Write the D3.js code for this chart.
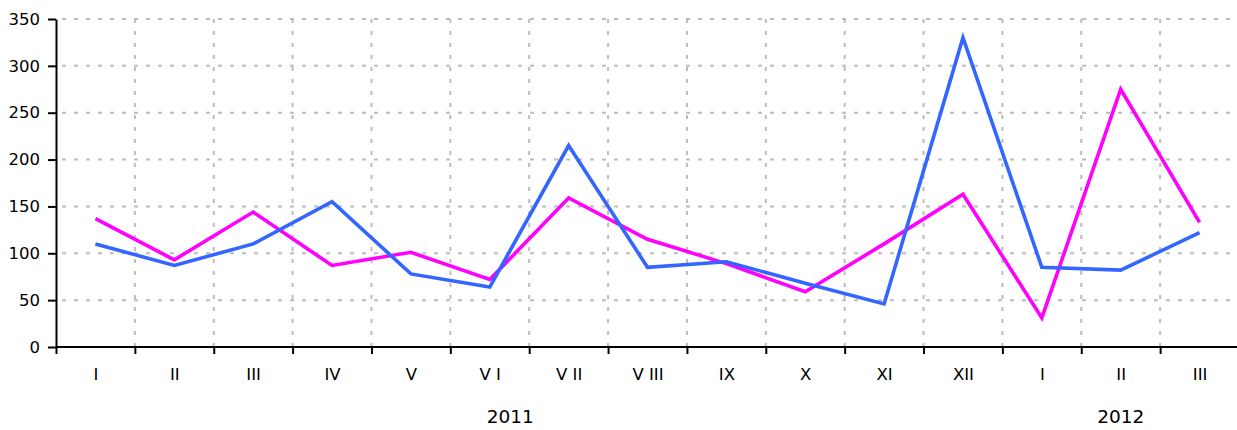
<!DOCTYPE html>
<html>
<head>
<meta charset="utf-8">
<script src="https://cdn.jsdelivr.net/npm/d3@7"></script>
<style>
  html, body { margin: 0; padding: 0; background: #fff; }
  svg { display: block; font-family: "DejaVu Sans", Verdana, sans-serif; }
</style>
</head>
<body>
<svg id="chart" width="1237" height="430"></svg>
<script>
// ---- data ----
const months = ["I", "II", "III", "IV", "V", "V I", "V II", "V III", "IX", "X", "XI", "XII", "I", "II", "III"];
const years = ["2011", "2012"];
const yearMonthCounts = [12, 3];
const blueSeries = [110, 87, 110, 155, 78, 64, 215, 85, 91, 68, 46, 330, 85, 82, 122];
const magentaSeries = [137, 93, 144, 87, 101, 72, 159, 115, 89, 59, 110, 163, 31, 275, 133];
const yTicks = [0, 50, 100, 150, 200, 250, 300, 350];

// ---- layout ----
const W = 1237, H = 430;
const mLeft = 56, mTop = 19, mBottom = 347, mRight = 1239;

const svg = d3.select("#chart");

const x = d3.scaleLinear().domain([0, months.length]).range([mLeft, mRight]);
const y = d3.scaleLinear().domain([0, 350]).range([mBottom, mTop]);

// grid
const grid = svg.append("g").attr("stroke", "#bcbcbc").attr("stroke-width", 2).attr("stroke-dasharray", "4,8");
grid.selectAll("line.h").data(yTicks.filter(d => d > 0)).join("line")
  .attr("class", "h")
  .attr("x1", mLeft + 6).attr("x2", W).attr("y1", d => y(d)).attr("y2", d => y(d));
grid.selectAll("line.v").data(d3.range(1, months.length)).join("line")
  .attr("class", "v")
  .attr("x1", d => x(d)).attr("x2", d => x(d)).attr("y1", mTop).attr("y2", mBottom);

// y axis
const yAxis = svg.append("g").attr("transform", `translate(${mLeft},0)`)
  .call(d3.axisLeft(y).tickValues(yTicks).tickSize(8).tickSizeOuter(0).tickPadding(8));
yAxis.select(".domain").attr("stroke", "#000").attr("stroke-width", 2);
yAxis.selectAll(".tick line").attr("stroke", "#000").attr("stroke-width", 2);
yAxis.selectAll(".tick text").attr("font-size", 16.5).attr("fill", "#000")
  .attr("font-family", "DejaVu Sans, Verdana, sans-serif");

// x axis ticks at boundaries
const xAxis = svg.append("g").attr("transform", `translate(0,${mBottom})`)
  .call(d3.axisBottom(x).tickValues(d3.range(0, months.length)).tickFormat("").tickSize(7).tickSizeOuter(0));
xAxis.select(".domain").attr("d", `M${mLeft},0H${W}`).attr("stroke", "#000").attr("stroke-width", 2);
xAxis.selectAll(".tick line").attr("stroke", "#000").attr("stroke-width", 2);

// month labels at band centers
const xLabels = svg.append("g").attr("transform", `translate(0,${mBottom})`)
  .call(d3.axisBottom(x).tickValues(d3.range(0, months.length).map(i => i + 0.5))
    .tickFormat((d, i) => months[i]).tickSize(0).tickPadding(21));
xLabels.select(".domain").remove();
xLabels.selectAll(".tick text").attr("font-size", 16.5).attr("fill", "#000")
  .attr("font-family", "DejaVu Sans, Verdana, sans-serif");

// year labels
let startIdx = 0;
const yearPos = years.map((yr, k) => {
  const s = startIdx, n = yearMonthCounts[k];
  startIdx += n;
  return k === 0 ? s + n * 0.48 : s + n * 0.5;
});
svg.append("g").selectAll("text").data(years).join("text")
  .attr("x", (d, i) => x(yearPos[i]))
  .attr("y", 423)
  .attr("text-anchor", "middle")
  .attr("font-size", 18.5)
  .attr("fill", "#000")
  .text(d => d);

// lines
const line = d3.line().x((d, i) => x(i + 0.5)).y(d => y(d));
svg.append("path").datum(magentaSeries).attr("d", line)
  .attr("fill", "none").attr("stroke", "#ff00ff").attr("stroke-width", 3.6).attr("stroke-linejoin", "miter");
svg.append("path").datum(blueSeries).attr("d", line)
  .attr("fill", "none").attr("stroke", "#3366ff").attr("stroke-width", 3.6).attr("stroke-linejoin", "miter");
</script>
</body>
</html>
